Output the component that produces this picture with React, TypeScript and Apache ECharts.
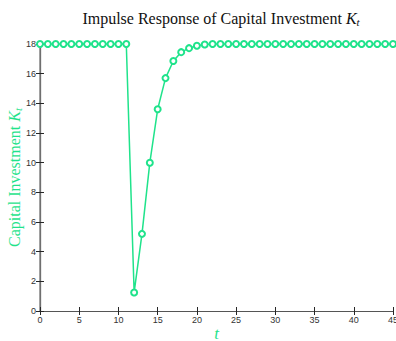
import React, { useEffect, useRef } from "react";
import * as echarts from "echarts";

const periods: number[] = [
  0, 1, 2, 3, 4, 5, 6, 7, 8, 9, 10, 11, 12, 13, 14, 15, 16, 17, 18, 19, 20, 21, 22,
  23, 24, 25, 26, 27, 28, 29, 30, 31, 32, 33, 34, 35, 36, 37, 38, 39, 40, 41, 42, 43,
  44, 45,
];
const capital: number[] = [
  18, 18, 18, 18, 18, 18, 18, 18, 18, 18, 18, 18, 1.25, 5.2, 10.0, 13.6, 15.7, 16.85,
  17.45, 17.72, 17.88, 17.97, 18, 18, 18, 18, 18, 18, 18, 18, 18, 18, 18, 18, 18, 18,
  18, 18, 18, 18, 18, 18, 18, 18, 18, 18,
];
const xTicks = { min: 0, max: 45, interval: 5 };
const yTicks = { min: 0, max: 18, interval: 2 };

const GREEN = "#1fe38b";
const SERIF = "'Liberation Serif', 'DejaVu Serif', serif";
const SANS = "'Liberation Sans', Arial, sans-serif";

export default function App() {
  const ref = useRef<HTMLDivElement>(null);
  useEffect(() => {
    if (!ref.current) return;
    const chart = echarts.init(ref.current, undefined, { renderer: "svg" });
    const tickStyle = { show: true, inside: true, length: 4, lineStyle: { color: "#262626", width: 1 } };
    chart.setOption({
      animation: false,
      backgroundColor: "#fff",
      title: {
        text: "{n|Impulse Response of Capital Investment }{k|K}{s|t}",
        left: 216,
        textAlign: "center",
        top: 4,
        textStyle: {
          fontWeight: "normal",
          rich: {
            n: { fontFamily: SERIF, fontSize: 16, fontWeight: "normal", color: "#111", lineHeight: 18 },
            k: { fontFamily: SERIF, fontSize: 16, fontWeight: "normal", fontStyle: "italic", color: "#111", lineHeight: 18 },
            s: { fontFamily: SERIF, fontSize: 11, fontWeight: "normal", fontStyle: "italic", color: "#111", lineHeight: 18, verticalAlign: "bottom", padding: [6, 0, 0, 0] },
          },
        },
      },
      grid: { left: 40, right: 3, top: 44, bottom: 30, containLabel: false, outerBoundsMode: "none" },
      xAxis: [
        {
          type: "value",
          min: xTicks.min,
          max: xTicks.max,
          interval: xTicks.interval,
          position: "bottom",
          name: "t",
          nameLocation: "middle",
          nameGap: 14,
          nameMoveOverlap: false,
          nameTextStyle: { fontFamily: SERIF, fontStyle: "italic", fontSize: 17, color: GREEN, lineHeight: 17 },
          axisLine: { show: true, lineStyle: { color: "#262626", width: 1.2 } },
          axisTick: tickStyle,
          axisLabel: { fontFamily: SANS, fontSize: 9, color: "#333", margin: 4 },
          splitLine: { show: false },
        },
        {
          type: "value",
          min: xTicks.min,
          max: xTicks.max,
          interval: xTicks.interval,
          position: "top",
          axisLine: { show: true, lineStyle: { color: "#555", width: 1.2 } },
          axisTick: tickStyle,
          axisLabel: { show: false },
          splitLine: { show: false },
        },
      ],
      yAxis: [
        {
          type: "value",
          min: yTicks.min,
          max: yTicks.max,
          interval: yTicks.interval,
          position: "left",
          name: "{n|Capital Investment }{k|K}{s|t}",
          nameLocation: "middle",
          nameGap: 17,
          nameMoveOverlap: false,
          nameTextStyle: {
            rich: {
              n: { fontFamily: SERIF, fontSize: 16, color: GREEN, lineHeight: 18 },
              k: { fontFamily: SERIF, fontSize: 16, fontStyle: "italic", color: GREEN, lineHeight: 18 },
              s: { fontFamily: SERIF, fontSize: 11, fontStyle: "italic", color: GREEN, lineHeight: 18, verticalAlign: "bottom", padding: [6, 0, 0, 0] },
            },
          },
          axisLine: { show: true, lineStyle: { color: "#262626", width: 1.2 } },
          axisTick: tickStyle,
          axisLabel: { fontFamily: SANS, fontSize: 9, color: "#333", margin: 4 },
          splitLine: { show: false },
        },
        {
          type: "value",
          min: yTicks.min,
          max: yTicks.max,
          interval: yTicks.interval,
          position: "right",
          axisLine: { show: true, lineStyle: { color: "#888", width: 1.5 } },
          axisTick: tickStyle,
          axisLabel: { show: false },
          splitLine: { show: false },
        },
      ],
      series: [
        {
          type: "line",
          data: periods.map((t, i) => [t, capital[i]]),
          symbol: "emptyCircle",
          symbolSize: 6,
          clip: false,
          lineStyle: { color: GREEN, width: 1.5 },
          itemStyle: { color: GREEN, borderColor: GREEN, borderWidth: 1.5 },
        },
      ],
    });
    return () => chart.dispose();
  }, []);
  return <div ref={ref} style={{ width: 396, height: 341, position: "absolute", left: 0, top: 0 }} />;
}
